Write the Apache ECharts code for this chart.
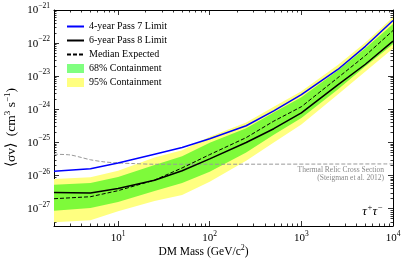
<!DOCTYPE html>
<html><head><meta charset="utf-8">
<script src="https://cdn.jsdelivr.net/npm/echarts@6/dist/echarts.min.js"></script>
<style>html,body{margin:0;padding:0;background:#fff}#c{width:407px;height:265px}</style>
</head><body><div id="c"></div>
<script>
// ---- data ----
const mass = [2, 5, 10, 25, 50, 100, 250, 500, 1000, 2500, 5000, 10000];
const pass7Limit = [1.35e-26, 1.6e-26, 2.4e-26, 4.4e-26, 7.0e-26, 1.3e-25, 3.2e-25, 9.0e-25, 2.8e-24, 1.6e-23, 8.0e-23, 4.8e-22];
const pass8Limit = [3.1e-27, 3.0e-27, 4.1e-27, 7.2e-27, 1.4e-26, 3.2e-26, 1.0e-25, 2.6e-25, 7.8e-25, 5.5e-24, 2.3e-23, 1.15e-22];
const medianExpected = [2.0e-27, 2.3e-27, 3.5e-27, 7.3e-27, 1.7e-26, 4.3e-26, 1.4e-25, 4.4e-25, 1.2e-24, 9.0e-24, 4.2e-23, 2.4e-22];
const band68Lo = [8.7e-28, 1.05e-27, 1.6e-27, 3.4e-27, 6.0e-27, 1.3e-26, 5.0e-26, 1.7e-25, 5.5e-25, 4.0e-24, 2.0e-23, 9.3e-23];
const band68Hi = [5.3e-27, 6.0e-27, 9.0e-27, 2.1e-26, 3.8e-26, 9.8e-26, 2.7e-25, 8.0e-25, 2.3e-24, 1.5e-23, 7.0e-23, 3.8e-22];
const band95Lo = [3.9e-28, 4.5e-28, 8.3e-28, 1.7e-27, 2.6e-27, 6.5e-27, 2.8e-26, 1.0e-25, 3.5e-25, 2.8e-24, 1.4e-23, 6.9e-23];
const band95Hi = [7.9e-27, 8.9e-27, 1.4e-26, 3.5e-26, 5.8e-26, 1.5e-25, 4.0e-25, 1.2e-24, 3.5e-24, 2.2e-23, 1.05e-22, 6.0e-22];
const thermalMass = [2, 3, 4, 5, 7, 10, 15, 25, 100, 10000];
const thermalRelic = [4.4e-26, 4.2e-26, 3.5e-26, 3.0e-26, 2.6e-26, 2.4e-26, 2.3e-26, 2.2e-26, 2.2e-26, 2.25e-26];
const xMajorTicks = [10, 100, 1000, 10000];
const yMajorTicks = [1e-27, 1e-26, 1e-25, 1e-24, 1e-23, 1e-22, 1e-21];
const xMin = 2, xMax = 10000, yMin = 3e-28, yMax = 1e-21;

// minor tick positions (2..9 x decade)
function minorTicks(lo, hi) {
  const out = [];
  for (let e = Math.floor(Math.log10(lo)); e <= Math.ceil(Math.log10(hi)); e++) {
    for (let k = 2; k <= 9; k++) {
      const v = k * Math.pow(10, e);
      if (v > lo * 1.0001 && v < hi * 0.9999) out.push(v);
    }
  }
  return out;
}
const L = v => Math.log10(v);
const xMinorTicks = minorTicks(xMin, xMax);
const yMinorTicks = minorTicks(yMin, yMax);

const pairs = (xs, ys) => xs.map((x, i) => [x, ys[i]]);
const triples = (xs, lo, hi) => xs.map((x, i) => [x, lo[i], hi[i]]);

const SERIF = '"Liberation Serif", "Times New Roman", serif';
const rich = {
  b: { fontFamily: SERIF, fontSize: 11, color: '#000', verticalAlign: 'bottom', lineHeight: 12 },
  s: { fontFamily: SERIF, fontSize: 7.5, color: '#000', verticalAlign: 'bottom', lineHeight: 8, padding: [0, 0, 6, 0] }
};
// tick axes work in log10 space, so labels show 10^exponent
const expLabel = v => '{b|10}{s|' + String(Math.round(v)).replace('-', '\u2212') + '}';

function mainAx(kind, pos, min, max) {
  return {
    type: 'log', position: pos, min: min, max: max,
    axisLine: { show: true, lineStyle: { color: '#000', width: 1 } },
    axisTick: { show: false }, axisLabel: { show: false }, splitLine: { show: false }
  };
}
function tickAx(pos, min, max, values, len, labels, margin) {
  return {
    type: 'value', position: pos, min: L(min), max: L(max),
    axisLine: { show: false },
    axisTick: { show: true, inside: true, length: len, customValues: values.map(L), lineStyle: { color: '#000', width: 0.8 } },
    axisLabel: labels ? { show: true, customValues: values.map(L), formatter: expLabel, rich: rich, margin: margin } : { show: false },
    splitLine: { show: false }
  };
}

function bandRender(color) {
  return function (params, api) {
    if (params.dataIndexInside !== 0) return;
    const n = params.dataInsideLength;
    const top = [], bot = [];
    for (let i = 0; i < n; i++) {
      top.push(api.coord([api.value(0, i), api.value(2, i)]));
      bot.push(api.coord([api.value(0, i), api.value(1, i)]));
    }
    return { type: 'polygon', shape: { points: top.concat(bot.reverse()) }, style: { fill: color } };
  };
}

const chart = echarts.init(document.getElementById('c'), null, { renderer: 'canvas' });
chart.setOption({
  animation: false,
  backgroundColor: '#fff',
  grid: { left: 54, right: 14, top: 10, bottom: 39, containLabel: false },
  xAxis: [
    mainAx('x', 'bottom', xMin, xMax),
    tickAx('bottom', xMin, xMax, xMajorTicks, 5, true, 6),
    tickAx('bottom', xMin, xMax, xMinorTicks, 2.5, false),
    mainAx('x', 'top', xMin, xMax),
    tickAx('top', xMin, xMax, xMajorTicks, 5, false),
    tickAx('top', xMin, xMax, xMinorTicks, 2.5, false)
  ],
  yAxis: [
    mainAx('y', 'left', yMin, yMax),
    tickAx('left', yMin, yMax, yMajorTicks, 5, true, 4),
    tickAx('left', yMin, yMax, yMinorTicks, 2.5, false),
    mainAx('y', 'right', yMin, yMax),
    tickAx('right', yMin, yMax, yMajorTicks, 5, false),
    tickAx('right', yMin, yMax, yMinorTicks, 2.5, false)
  ],
  legend: {
    orient: 'vertical', left: 61, top: 16, itemWidth: 17, itemHeight: 9, itemGap: 3,
    selectedMode: false,
    textStyle: { fontFamily: SERIF, fontSize: 10, color: '#000', lineHeight: 11 },
    data: [
      { name: '4-year Pass 7 Limit', itemStyle: { opacity: 0 } },
      { name: '6-year Pass 8 Limit', itemStyle: { opacity: 0 } },
      { name: 'Median Expected', itemStyle: { opacity: 0 } },
      { name: '68% Containment', icon: 'rect', itemStyle: { color: '#80ff80' } },
      { name: '95% Containment', icon: 'rect', itemStyle: { color: '#ffff80' } }
    ]
  },
  series: [
    { name: '95% Containment', type: 'custom', color: '#ffff80', data: triples(mass, band95Lo, band95Hi),
      encode: { x: 0, y: [1, 2] }, renderItem: bandRender('#ffff80'), clip: true, z: 1 },
    { name: '68% Containment', type: 'custom', color: '#80ff80', data: triples(mass, band68Lo, band68Hi),
      encode: { x: 0, y: [1, 2] }, renderItem: bandRender('rgba(20,245,0,0.55)'), clip: true, z: 2 },
    { name: 'Thermal Relic', type: 'line', data: pairs(thermalMass, thermalRelic), symbol: 'none', smooth: 0.3,
      lineStyle: { color: '#999', width: 1, type: [4, 2] }, z: 3 },
    { name: '4-year Pass 7 Limit', type: 'line', data: pairs(mass, pass7Limit), symbol: 'none', color: '#0000ff',
      lineStyle: { color: '#0000ff', width: 1.5 }, z: 4 },
    { name: 'Median Expected', type: 'line', data: pairs(mass, medianExpected), symbol: 'none', color: '#000',
      lineStyle: { color: '#000', width: 1, type: [4, 2] }, z: 5 },
    { name: '6-year Pass 8 Limit', type: 'line', data: pairs(mass, pass8Limit), symbol: 'none', color: '#000',
      lineStyle: { color: '#000', width: 1.5 }, z: 6 }
  ],
  graphic: [
    { type: 'text', left: 'center', top: 244, style: { text: 'DM Mass (GeV/c{s|2})', rich: { s: { fontFamily: SERIF, fontSize: 8, fill: '#000', padding: [0, 0, 6, 0], verticalAlign: 'bottom', lineHeight: 8 } }, font: '11.5px ' + SERIF, fill: '#000' } },
    { type: 'text', x: 4, y: 167, rotation: Math.PI / 2, style: { text: '\u27e8\u03c3v\u27e9  (cm{s|3} s{s|\u22121})', rich: { s: { fontFamily: SERIF, fontSize: 9, fill: '#000', padding: [0, 0, 6, 0], verticalAlign: 'bottom', lineHeight: 8 } }, font: '13.5px ' + SERIF, fill: '#000' } },
    { type: 'text', right: 23, top: 166, style: { text: 'Thermal Relic Cross Section', font: '7.5px ' + SERIF, fill: '#888', align: 'right' } },
    { type: 'text', right: 23, top: 174.5, style: { text: '(Steigman et al. 2012)', font: '7.5px ' + SERIF, fill: '#888', align: 'right' } },
    { type: 'text', right: 24, top: 203, style: { text: '\u03c4{s|+}\u03c4{s|\u2212}', rich: { s: { fontFamily: SERIF, fontSize: 8.5, fontStyle: 'italic', fill: '#000', padding: [0, 0, 6, 0], verticalAlign: 'bottom', lineHeight: 8 } }, font: 'italic 13px ' + SERIF, fill: '#000' } }
  ]
});
</script></body></html>
